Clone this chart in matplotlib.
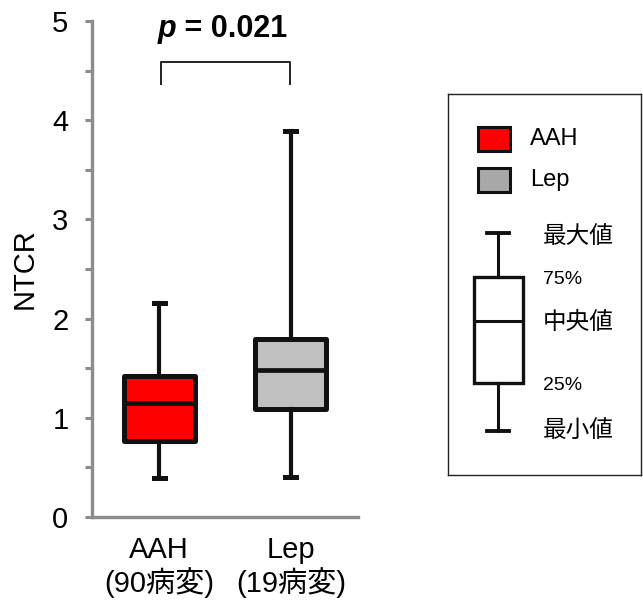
import matplotlib
matplotlib.use('Agg')
import matplotlib.pyplot as plt
from matplotlib.patches import Rectangle

plt.rcParams['font.family'] = ['Liberation Sans', 'Noto Sans CJK JP']

# データ
groups = ['AAH\n(90病変)', 'Lep\n(19病変)']
whislo = [0.39, 0.40]
q1 = [0.77, 1.09]
med = [1.15, 1.48]
q3 = [1.42, 1.79]
whishi = [2.16, 3.89]
box_colors = ['#ff0000', '#c0c0c0']
swatch_colors = ['#ff0000', '#a8a8a8']
p_text = '0.021'

legend_names = ['AAH', 'Lep']
schema_labels = ['最大値', '75%', '中央値', '25%', '最小値']
# 凡例の模式図（凡例枠内のピクセル座標）
schema_stats = [337, 289, 227, 183, 139]

line_c = '#111111'
axis_c = '#8c8c8c'

fig = plt.figure(figsize=(6.43, 6.12), dpi=100)
ax = fig.add_axes([92/643, 95/612, 266/643, 496/612])

stats = []
for i in range(len(groups)):
    stats.append(dict(whislo=whislo[i], q1=q1[i], med=med[i], q3=q3[i],
                      whishi=whishi[i], fliers=[]))
bp = ax.bxp(stats, positions=[1, 2], widths=0.54, capwidths=0.085,
            patch_artist=True, showfliers=False,
            boxprops=dict(linewidth=3.6, edgecolor=line_c),
            medianprops=dict(linewidth=3.4, color=line_c),
            whiskerprops=dict(linewidth=3.0, color=line_c),
            capprops=dict(linewidth=3.6, color=line_c))
for patch, c in zip(bp['boxes'], box_colors):
    patch.set_facecolor(c)
    patch.set_joinstyle('round')

ax.set_xlim(0.49, 2.51)
ax.set_ylim(0, 5)
ax.set_xticks([1, 2])
ax.set_xticklabels(groups, fontsize=21, linespacing=1.12)
ax.set_yticks([0, 1, 2, 3, 4, 5])
ax.set_yticks([0.5, 1.5, 2.5, 3.5, 4.5], minor=True)
ax.tick_params(axis='y', which='both', direction='out', length=5, width=2.2,
               color=axis_c, labelsize=21, pad=12)
ax.tick_params(axis='x', length=0, pad=14)
for s in ['top', 'right']:
    ax.spines[s].set_visible(False)
for s in ['left', 'bottom']:
    ax.spines[s].set_color(axis_c)
    ax.spines[s].set_linewidth(2.4)
ax.spines['left'].set_bounds(0, 5)
ax.set_ylabel('NTCR', fontsize=21, labelpad=10)

# 有意差ブラケット
bx0, bx1 = 1.015, 1.99
ax.plot([bx0, bx0, bx1, bx1], [4.36, 4.59, 4.59, 4.36], color='#222222',
        lw=1.4, clip_on=False)
t1 = ax.text(0.985, 4.84, 'p', fontsize=22, fontweight='bold', style='italic',
             ha='left', va='baseline')
fig.canvas.draw()
bb = t1.get_window_extent()
x_next = ax.transData.inverted().transform((bb.x1, bb.y0))[0]
ax.text(x_next, 4.84, ' = ' + p_text, fontsize=22, fontweight='bold',
        ha='left', va='baseline')

# 凡例
lg = fig.add_axes([448/643, (612-475)/612, 193/643, 381/612])
for s in lg.spines.values():
    s.set_linewidth(1.0)
    s.set_color('#222222')

sw_y = [33, 74]
for name, c, y in zip(legend_names, swatch_colors, sw_y):
    lg.add_patch(Rectangle((30, y), 32, 24, facecolor=c,
                           edgecolor=line_c, lw=2.2))
    lg.text(82, y + 12, name, fontsize=17, va='center', ha='left')

schema = [dict(whislo=schema_stats[0], q1=schema_stats[1], med=schema_stats[2],
               q3=schema_stats[3], whishi=schema_stats[4], fliers=[])]
lg.bxp(schema, positions=[50], widths=49, capwidths=22, showfliers=False,
       patch_artist=True,
       boxprops=dict(linewidth=2.4, edgecolor=line_c, facecolor='white'),
       medianprops=dict(linewidth=2.2, color=line_c),
       whiskerprops=dict(linewidth=2.2, color=line_c),
       capprops=dict(linewidth=2.8, color=line_c))
lg.set_xlim(0, 193)
lg.set_ylim(381, 0)
lg.set_xticks([])
lg.set_yticks([])
label_y = [143, 186, 229, 291, 338]
for lab, y in zip(schema_labels, label_y):
    if '%' in lab:
        lg.text(95, y, lab, fontsize=14, va='center', ha='left')
    else:
        lg.text(95, y, lab, fontsize=17, va='center', ha='left')

fig.savefig('out.png', dpi=100)
